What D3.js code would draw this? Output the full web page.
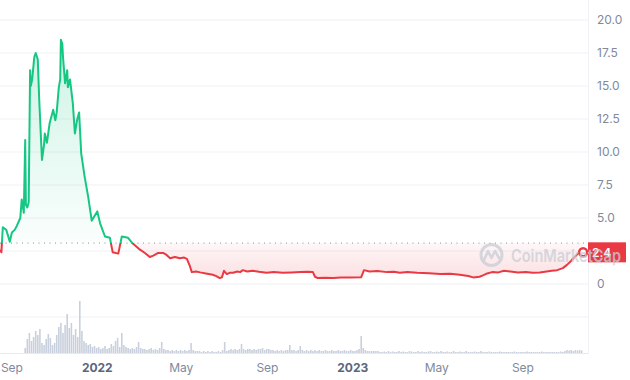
<!DOCTYPE html>
<html><head><meta charset="utf-8">
<script src="https://cdn.jsdelivr.net/npm/d3@7"></script>
<style>html,body{margin:0;padding:0;background:#fff;} svg{display:block;font-family:Inter,"Noto Sans",sans-serif;}</style>
</head><body><svg id="c" width="630" height="380"></svg>
<script>
const priceDates = ["2021-08-15","2021-08-17","2021-08-19","2021-08-24","2021-08-29","2021-09-01","2021-09-05","2021-09-08","2021-09-13","2021-09-15","2021-09-18","2021-09-20","2021-09-21","2021-09-23","2021-09-25","2021-09-27","2021-09-28","2021-09-30","2021-10-03","2021-10-05","2021-10-08","2021-10-10","2021-10-13","2021-10-14","2021-10-17","2021-10-18","2021-10-21","2021-10-25","2021-10-28","2021-10-30","2021-11-02","2021-11-04","2021-11-07","2021-11-09","2021-11-10","2021-11-12","2021-11-13","2021-11-16","2021-11-19","2021-11-20","2021-11-23","2021-11-27","2021-11-30","2021-12-03","2021-12-06","2021-12-09","2021-12-14","2021-12-19","2021-12-24","2022-01-01","2022-01-05","2022-01-12","2022-01-19","2022-01-23","2022-01-31","2022-02-05","2022-02-14","2022-02-20","2022-03-03","2022-03-10","2022-03-17","2022-03-22","2022-03-29","2022-04-05","2022-04-10","2022-04-15","2022-04-22","2022-04-29","2022-05-05","2022-05-09","2022-05-13","2022-05-16","2022-05-22","2022-05-28","2022-06-05","2022-06-15","2022-06-20","2022-06-25","2022-06-28","2022-07-01","2022-07-05","2022-07-09","2022-07-14","2022-07-20","2022-07-24","2022-07-28","2022-08-03","2022-08-11","2022-08-20","2022-08-31","2022-09-10","2022-09-23","2022-10-05","2022-10-18","2022-10-28","2022-11-05","2022-11-08","2022-11-12","2022-11-22","2022-12-04","2022-12-15","2022-12-28","2023-01-13","2023-01-17","2023-01-25","2023-02-05","2023-02-19","2023-03-01","2023-03-09","2023-03-20","2023-04-03","2023-04-20","2023-05-06","2023-05-20","2023-06-03","2023-06-15","2023-06-22","2023-07-01","2023-07-06","2023-07-12","2023-07-19","2023-07-28","2023-08-05","2023-08-14","2023-08-25","2023-09-05","2023-09-15","2023-09-25","2023-10-05","2023-10-12","2023-10-20","2023-10-28","2023-11-03","2023-11-08","2023-11-12","2023-11-16","2023-11-19","2023-11-23","2023-11-26"];
const priceValues = [2.6,2.4,4.3,4.1,3.2,3.9,4.1,4.4,5.0,6.4,5.4,10.9,6.0,5.8,6.2,16.2,15.0,15.5,17.2,17.5,17.0,14.0,10.5,9.4,10.6,11.4,10.7,12.2,12.8,13.2,12.4,13.0,14.9,15.5,18.5,18.2,17.2,15.2,16.2,14.9,15.5,13.7,11.4,12.4,13.0,9.9,8.1,6.6,4.8,5.5,4.6,3.6,3.5,2.4,2.3,3.6,3.5,3.1,2.6,2.35,2.05,2.15,2.35,2.35,2.2,1.95,2.05,1.95,2.0,1.9,1.4,0.9,0.95,0.88,0.8,0.7,0.6,0.45,0.5,1.0,0.75,0.85,0.85,0.95,0.9,1.05,0.95,1.0,0.92,0.85,0.9,0.85,0.88,0.9,0.92,0.9,0.55,0.45,0.48,0.45,0.5,0.5,0.52,1.05,0.95,0.98,0.9,0.93,0.85,0.9,0.85,0.82,0.75,0.78,0.7,0.6,0.5,0.55,0.65,0.8,0.9,0.88,1.0,0.95,0.88,0.9,0.85,0.88,0.95,1.0,1.05,1.2,1.45,1.7,1.95,2.15,2.35,2.45,2.4];

const volumeStart = "2021-09-20";
const volumeStepDays = 3;
const volumeValues = [5,14,20,12,16,22,18,24,10,8,14,19,15,8,10,18,26,30,20,28,39,25,30,18,24,16,52,22,12,10,8,9,6,7,5,6,4,5,7,4,5,9,7,12,15,6,20,8,6,5,4,5,4,6,11,5,4,4,3,4,5,3,4,3,5,11,4,3,3,2,3,2,3,2,3,2,3,2,3,10,3,2,2,2,1,2,1,2,1,2,1,1,2,1,3,11,2,3,4,3,4,3,4,9,4,3,4,4,3,4,3,4,4,5,3,4,4,3,3,2,3,2,3,2,3,3,8,3,3,2,3,7,3,2,3,
2,3,2,3,2,3,2,2,3,2,2,3,2,2,3,2,2,3,2,2,3,2,2,3,4,17,5,3,2,2,2,2,2,2,1,
1,1.5,1,2,1,1.5,1,1,2,1,1.5,1,1,2,1.5,1,1,2,1,1.5,1,1,1.5,2,1,1,1.5,1,2,1,
1,1.5,1,1,2,1,1,1.5,1,1,2,1,1,1,1.5,1,1,2,1,1,1,1.5,1,1,1,1,1.5,1,1,1,
1,1,1,1.5,1,1,1,1,1,1.5,1,1,1,1,1,1,1.5,1,1,1,1,1,1,1,1,1.5,1,
2,3,2.5,3,2,3,2.5,3,2.5];

const yTickValues = [0,2.5,5,7.5,10,12.5,15,17.5,20];
const yTickLabels = ["0","","5.0","7.5","10.0","12.5","15.0","17.5","20.0"];
const gridValues = [-2.5,0,2.5,5,7.5,10,12.5,15,17.5,20];
const xTickDates = ["2021-09-01","2022-01-01","2022-05-01","2022-09-01","2023-01-01","2023-05-01","2023-09-01"];
const xTickLabels = ["Sep","2022","May","Sep","2023","May","Sep"];
const xTickIsYear = [false,true,false,false,true,false,false];
const baselineValue = 3.1;
const lastPriceLabel = "2.4";

const parse = d3.timeParse("%Y-%m-%d");
const price = priceDates.map((d,i)=>({date:parse(d), v:priceValues[i]}));
const vStart = parse(volumeStart);
const volume = volumeValues.map((v,i)=>({date:d3.timeDay.offset(vStart, i*volumeStepDays), v}));

const svg = d3.select("#c");
const W = 588;
const x = d3.scaleTime().domain([parse("2021-08-15"), parse("2023-12-03")]).range([0, W]);
const y = d3.scaleLinear().domain([0,20]).range([284,20]);
const yVol = d3.scaleLinear().domain([0,60]).range([353,293]);
const green = "#16c784", red = "#ea3943";
const by = y(baselineValue);

const defs = svg.append("defs");
defs.append("clipPath").attr("id","above").append("rect").attr("x",0).attr("y",0).attr("width",W).attr("height",by);
defs.append("clipPath").attr("id","below").append("rect").attr("x",0).attr("y",by).attr("width",W).attr("height",360-by);
const gg = defs.append("linearGradient").attr("id","gg").attr("gradientUnits","userSpaceOnUse").attr("x1",0).attr("x2",0).attr("y1",y(19)).attr("y2",by);
gg.append("stop").attr("offset",0).attr("stop-color",green).attr("stop-opacity",0.22);
gg.append("stop").attr("offset",1).attr("stop-color",green).attr("stop-opacity",0.02);
const rg = defs.append("linearGradient").attr("id","rg").attr("gradientUnits","userSpaceOnUse").attr("x1",0).attr("x2",0).attr("y1",by).attr("y2",y(0.4));
rg.append("stop").attr("offset",0).attr("stop-color",red).attr("stop-opacity",0.04);
rg.append("stop").attr("offset",1).attr("stop-color",red).attr("stop-opacity",0.16);

// grid
svg.append("g").selectAll("line").data(gridValues).join("line")
  .attr("x1",0).attr("x2",W).attr("y1",d=>y(d)).attr("y2",d=>y(d))
  .attr("stroke","#eff1f4").attr("stroke-width",1);
svg.append("line").attr("x1",W+0.5).attr("x2",W+0.5).attr("y1",0).attr("y2",354).attr("stroke","#eff1f4");

// volume bars
svg.append("g").selectAll("rect").data(volume).join("rect")
  .attr("x",d=>x(d.date)-0.8).attr("width",1.6)
  .attr("y",d=>yVol(d.v)).attr("height",d=>yVol(0)-yVol(d.v))
  .attr("fill","#c9d0dd");
svg.append("line").attr("x1",0).attr("x2",W).attr("y1",353.5).attr("y2",353.5).attr("stroke","#e6e9ee");

// areas
const area = d3.area().x(d=>x(d.date)).y0(by).y1(d=>y(d.v));
svg.append("path").datum(price).attr("d",area).attr("fill","url(#gg)").attr("clip-path","url(#above)");
svg.append("path").datum(price).attr("d",area).attr("fill","url(#rg)").attr("clip-path","url(#below)");

// baseline
svg.append("line").attr("x1",0).attr("x2",W).attr("y1",by).attr("y2",by)
  .attr("stroke","#8a8f99").attr("stroke-width",1).attr("stroke-dasharray","1,4.5");

// lines
const line = d3.line().x(d=>x(d.date)).y(d=>y(d.v));
svg.append("path").datum(price).attr("d",line).attr("fill","none").attr("stroke",green).attr("stroke-width",2).attr("stroke-linejoin","round").attr("clip-path","url(#above)");
svg.append("path").datum(price).attr("d",line).attr("fill","none").attr("stroke",red).attr("stroke-width",2).attr("stroke-linejoin","round").attr("clip-path","url(#below)");

// y labels
svg.append("g").selectAll("text").data(yTickValues.filter((d,i)=>yTickLabels[i]!=="")).join("text")
  .attr("x",597).attr("y",d=>y(d)).attr("dy","0.35em")
  .attr("font-size",12).attr("fill","#808a9d")
  .text(d=>yTickLabels[yTickValues.indexOf(d)]);

// x labels
svg.append("g").selectAll("text").data(xTickDates).join("text")
  .attr("x",d=>x(parse(d))).attr("y",372).attr("text-anchor","middle")
  .attr("font-size",12)
  .attr("font-weight",(d,i)=>xTickIsYear[i]?700:400)
  .attr("fill",(d,i)=>xTickIsYear[i]?"#58667e":"#808a9d")
  .text((d,i)=>xTickLabels[i]);

// last price label
const last = price[price.length-1];
svg.append("rect").attr("x",W).attr("y",y(last.v)-10).attr("width",38).attr("height",20).attr("fill",red);
svg.append("text").attr("x",W+4).attr("y",y(last.v)).attr("dy","0.35em").attr("font-size",12).attr("font-weight",600).attr("fill","#fff").text(lastPriceLabel);
svg.append("circle").attr("cx",x(last.date)).attr("cy",y(last.v)).attr("r",4).attr("fill","#fff").attr("stroke",red).attr("stroke-width",2.5);

// watermark
const wm = svg.append("g").attr("opacity",0.75);
wm.append("circle").attr("cx",491.5).attr("cy",255).attr("r",10.5).attr("fill","none").attr("stroke","#c8cdd6").attr("stroke-width",3);
wm.append("path").attr("d","M484,260 L488,251 L491.5,258 L495,251 L499,258").attr("fill","none").attr("stroke","#c8cdd6").attr("stroke-width",2.6).attr("stroke-linejoin","round").attr("stroke-linecap","round");
wm.append("text").attr("x",511).attr("y",262).attr("font-size",17).attr("font-weight",600).attr("fill","#c8cdd6")
  .attr("textLength",110).attr("lengthAdjust","spacingAndGlyphs").text("CoinMarketCap");
</script></body></html>
